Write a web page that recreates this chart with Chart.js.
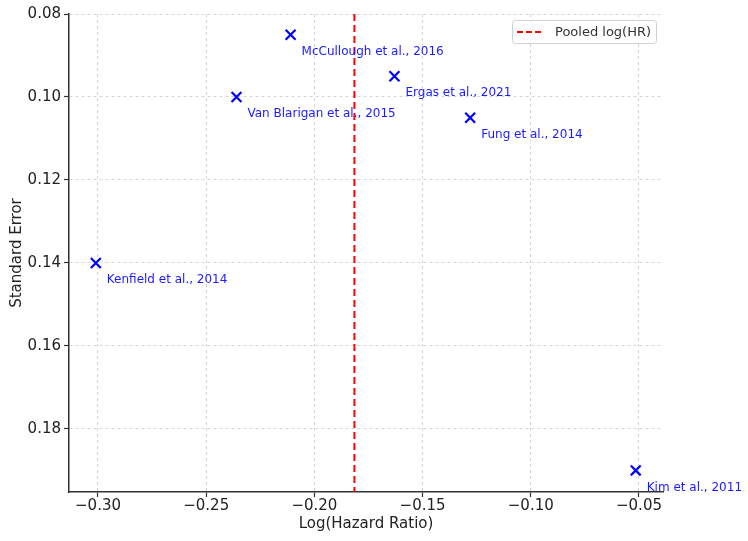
<!DOCTYPE html>
<html>
<head>
<meta charset="utf-8">
<script src="https://cdn.jsdelivr.net/npm/chart.js@4"></script>
<style>
  html, body { margin: 0; padding: 0; background: #fff; }
  #wrap { width: 748px; height: 541px; }
</style>
</head>
<body>
<div id="wrap"><canvas id="funnel" width="748" height="541"></canvas></div>
<script>
const studies = ['McCullough et al., 2016', 'Van Blarigan et al., 2015', 'Ergas et al., 2021',
                 'Fung et al., 2014', 'Kenfield et al., 2014', 'Kim et al., 2011'];
const logHR = [-0.211, -0.236, -0.163, -0.128, -0.301, -0.0515];
const stdErr = [0.085, 0.100, 0.095, 0.105, 0.140, 0.190];
const pooledLogHR = -0.1815;
const xTicks = [-0.30, -0.25, -0.20, -0.15, -0.10, -0.05];
const yTicks = [0.08, 0.10, 0.12, 0.14, 0.16, 0.18];

const FONT = 'DejaVu Sans';

function fmt(v) {
    return v.toFixed(2).replace('-', '\u2212');
}

// study labels next to each marker
const studyLabels = {
    id: 'studyLabels',
    afterDatasetsDraw(chart) {
        const ctx = chart.ctx;
        const xs = chart.scales.x, ys = chart.scales.y;
        ctx.save();
        ctx.font = '12px "' + FONT + '"';
        ctx.fillStyle = '#1a1aff';
        ctx.textBaseline = 'middle';
        ctx.textAlign = 'left';
        studies.forEach((name, i) => {
            const px = xs.getPixelForValue(logHR[i]);
            const py = ys.getPixelForValue(stdErr[i]);
            ctx.fillText(name, px + 11, py + 17);
        });
        ctx.restore();
    }
};

// legend box inside the plot, top right
const insideLegend = {
    id: 'insideLegend',
    afterDraw(chart) {
        const ctx = chart.ctx;
        const a = chart.chartArea;
        const w = 144, h = 23;
        const x = a.right - 7 - w, y = a.top + 6;
        ctx.save();
        ctx.fillStyle = 'rgba(255,255,255,0.85)';
        ctx.strokeStyle = '#d0d0d0';
        ctx.lineWidth = 1;
        ctx.beginPath();
        ctx.roundRect(x + 0.5, y + 0.5, w, h, 3);
        ctx.fill();
        ctx.stroke();
        ctx.strokeStyle = 'red';
        ctx.lineWidth = 2;
        ctx.setLineDash([6, 3]);
        ctx.beginPath();
        ctx.moveTo(x + 5, y + 12);
        ctx.lineTo(x + 32, y + 12);
        ctx.stroke();
        ctx.setLineDash([]);
        ctx.fillStyle = '#333';
        ctx.font = '13px "' + FONT + '"';
        ctx.textBaseline = 'middle';
        ctx.fillText('Pooled log(HR)', x + 43, y + 12.5);
        ctx.restore();
    }
};

const points = logHR.map((v, i) => ({ x: v, y: stdErr[i] }));

new Chart(document.getElementById('funnel'), {
    type: 'scatter',
    data: {
        datasets: [
            {
                label: 'Studies',
                data: points,
                pointStyle: 'crossRot',
                pointRadius: 7,
                pointHoverRadius: 7,
                borderColor: '#0000ff',
                backgroundColor: '#0000ff',
                pointBorderWidth: 2.2,
                order: 1
            },
            {
                label: 'Pooled log(HR)',
                type: 'line',
                data: [{ x: pooledLogHR, y: 0.08 }, { x: pooledLogHR, y: 0.1952 }],
                borderColor: 'red',
                borderWidth: 2,
                borderDash: [7, 4],
                pointRadius: 0,
                order: 2
            }
        ]
    },
    options: {
        responsive: false,
        animation: false,
        events: [],
        layout: { padding: { top: 14, right: 85, left: 0, bottom: 0 } },
        plugins: {
            legend: { display: false },
            tooltip: { enabled: false }
        },
        scales: {
            x: {
                type: 'linear',
                min: -0.3134,
                max: -0.0389,
                afterBuildTicks: s => { s.ticks = xTicks.map(v => ({ value: v })); },
                afterFit: s => { s.height = 49; },
                ticks: {
                    callback: v => fmt(v),
                    color: '#222',
                    font: { family: FONT, size: 15 },
                    padding: 0,
                    maxRotation: 0
                },
                grid: {
                    color: '#d4d4d4',
                    lineWidth: 1,
                    tickColor: '#333',
                    tickLength: 5,
                    tickWidth: 1.2,
                    tickBorderDash: []
                },
                border: { color: '#333', width: 1.5, dash: [3, 3] },
                title: {
                    display: true,
                    text: 'Log(Hazard Ratio)',
                    color: '#222',
                    font: { family: FONT, size: 15 },
                    padding: { top: 0, bottom: 8 }
                }
            },
            y: {
                type: 'linear',
                reverse: true,
                min: 0.08,
                max: 0.1952,
                afterBuildTicks: s => { s.ticks = yTicks.map(v => ({ value: v })); },
                afterFit: s => { s.width = 69; },
                ticks: {
                    callback: v => v.toFixed(2),
                    color: '#222',
                    font: { family: FONT, size: 15 },
                    padding: 3
                },
                grid: {
                    color: '#d4d4d4',
                    lineWidth: 1,
                    tickColor: '#333',
                    tickLength: 5,
                    tickWidth: 1.2,
                    tickBorderDash: []
                },
                border: { color: '#333', width: 1.5, dash: [3, 3] },
                title: {
                    display: true,
                    text: 'Standard Error',
                    color: '#222',
                    font: { family: FONT, size: 15 },
                    padding: { top: 8, bottom: 0 }
                }
            }
        }
    },
    plugins: [studyLabels, insideLegend]
});
</script>
</body>
</html>
